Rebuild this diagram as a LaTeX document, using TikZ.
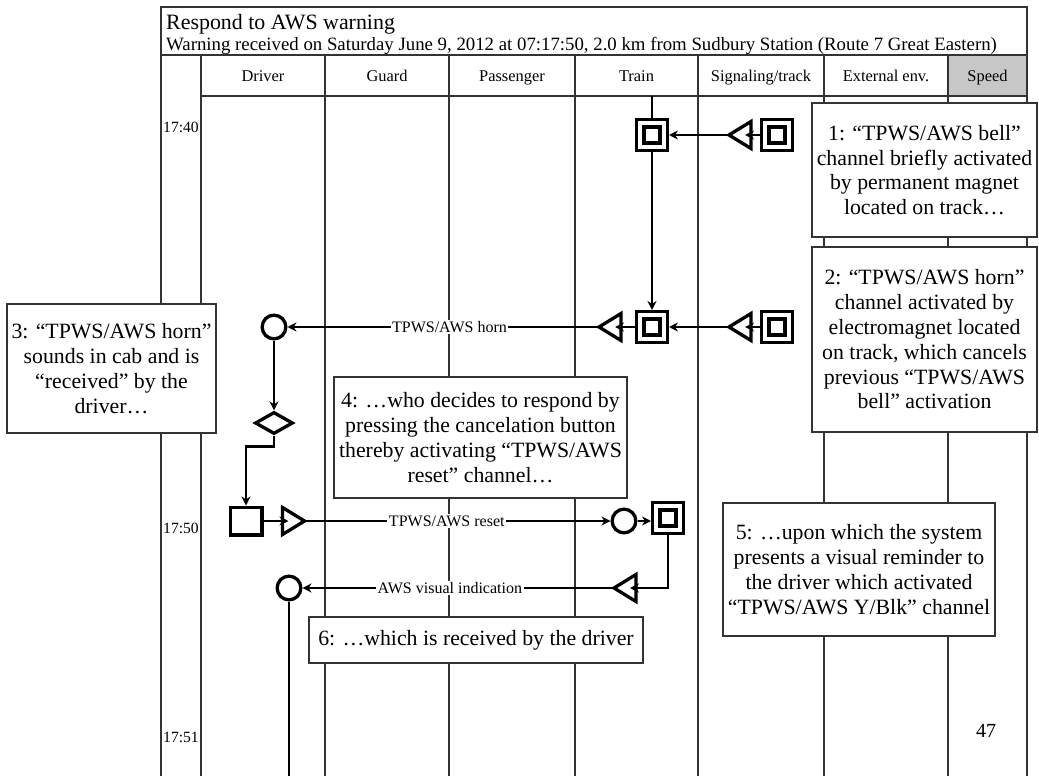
\documentclass[tikz,border=0pt]{standalone}
\usepackage{fontspec}
\setmainfont{Liberation Serif}
\usetikzlibrary{arrows.meta,shapes.geometric}
\definecolor{rulecol}{gray}{0.2}
\definecolor{speedgray}{gray}{0.78}
\begin{document}
\begin{tikzpicture}[x=1pt,y=-1pt,
  frameline/.style={draw=rulecol,line width=1.2pt},
  notebox/.style={draw=rulecol,line width=1.5pt,fill=white,align=center,inner sep=0pt,
    font=\fontsize{21.8}{24.8}\selectfont},
  shp/.style={draw=black,line width=3.3pt,fill=white,inner sep=0pt},
  dsq/.style={shp,rectangle,minimum size=30.7pt,
    path picture={\draw[line width=3.3pt]
      ([shift={(-7.9pt,-7.9pt)}]path picture bounding box.center) rectangle
      ([shift={(7.9pt,7.9pt)}]path picture bounding box.center);}},
  rcv/.style={shp,circle,minimum size=23.7pt},
  dcs/.style={shp,diamond,minimum width=38pt,minimum height=22pt},
  actbox/.style={shp,rectangle,minimum width=31.7pt,minimum height=27.7pt},
  conn/.style={draw=black,line width=2.5pt},
  arr/.style={conn,-{Stealth[length=9pt,width=9pt,inset=3pt]}},
  lbl/.style={fill=white,inner sep=1.5pt,font=\fontsize{16}{18}\selectfont},
  hdr/.style={anchor=base,inner sep=0pt,font=\fontsize{16.4}{18}\selectfont},
  tm/.style={anchor=base,inner sep=0pt,font=\fontsize{15.6}{17}\selectfont},
  trileft/.pic={\draw[shp] (-11,0) -- (11,-13.5) -- (11,13.5) -- cycle;
     \coordinate (-apex) at (-11,0); \coordinate (-base) at (11,0);},
  triright/.pic={\draw[shp] (11,0) -- (-11,-13.5) -- (-11,13.5) -- cycle;
     \coordinate (-apex) at (11,0); \coordinate (-base) at (-11,0);},
]
\useasboundingbox (0,0) rectangle (1039,776);

% table frame
\fill[speedgray] (948,55) rectangle (1027,96);
\draw[frameline] (161,776) -- (161,7) -- (1027,7) -- (1027,776);
\draw[frameline] (161,55) -- (1027,55);
\draw[frameline] (201,96) -- (1027,96);
\foreach \x in {201,325,449,575,698,824,948}
  \draw[frameline] (\x,55) -- (\x,776);

% title block
\node[anchor=base west,inner sep=0pt,font=\fontsize{21.9}{24}\selectfont] (title) at (166,29.5) {Respond to AWS warning};
\node[anchor=base west,inner sep=0pt,font=\fontsize{18.8}{20}\selectfont] (subtitle) at (166,50.5)
  {Warning received on Saturday June 9, 2012 at 07:17:50, 2.0 km from Sudbury Station (Route 7 Great Eastern)};

% column headings
\node[hdr] (hDriver) at (263,81.5) {Driver};
\node[hdr] (hGuard) at (387,81.5) {Guard};
\node[hdr] (hPass) at (512,81.5) {Passenger};
\node[hdr] (hTrain) at (636.5,81.5) {Train};
\node[hdr] (hSig) at (761,81.5) {Signaling/track};
\node[hdr] (hExt) at (886,81.5) {External env.};
\node[hdr] (hSpeed) at (987.5,81.5) {Speed};

% time stamps
\node[tm] (t1) at (181,132.5) {17:40};
\node[tm] (t2) at (181,533.5) {17:50};
\node[tm] (t3) at (181,742.5) {17:51};
\node[anchor=base,inner sep=0pt,font=\fontsize{20}{22}\selectfont] (pg) at (986,737) {47};

% explanatory notes
\node[notebox,minimum width=225pt,minimum height=134pt] (note1) at (924.5,170)
  {1: “TPWS/AWS bell”\\channel briefly activated\\by permanent magnet\\located on track…};
\node[notebox,minimum width=225pt,minimum height=185pt] (note2) at (924.5,339.5)
  {2: “TPWS/AWS horn”\\channel activated by\\electromagnet located\\on track, which cancels\\previous “TPWS/AWS\\bell” activation};
\node[notebox,minimum width=209pt,minimum height=129pt] (note3) at (111.5,368.5)
  {3: “TPWS/AWS horn”\\sounds in cab and is\\“received” by the\\driver…};
\node[notebox,minimum width=293pt,minimum height=121pt] (note4) at (480.5,437.5)
  {4: …who decides to respond by\\pressing the cancelation button\\thereby activating “TPWS/AWS\\reset” channel…};
\node[notebox,minimum width=272pt,minimum height=133pt] (note5) at (859,569.5)
  {5: …upon which the system\\presents a visual reminder to\\the driver which activated\\“TPWS/AWS Y/Blk” channel};
\node[notebox,minimum width=334pt,minimum height=46pt] (note6) at (476,640)
  {6: …which is received by the driver};

% symbols
\node[dsq] (sq1) at (652,135) {};
\node[dsq] (sig1) at (777,135) {};
\pic (tri1) at (740,135) {trileft};
\node[dsq] (sq2) at (652,327) {};
\node[dsq] (sig2) at (777,327) {};
\pic (tri2) at (740,327) {trileft};
\pic (tri3) at (610,327) {trileft};
\node[rcv] (rx1) at (274,327) {};
\node[dcs] (dec) at (274,423) {};
\node[actbox] (act) at (246,521) {};
\pic (tx1) at (293.5,521) {triright};
\node[rcv] (rx2) at (624,521) {};
\node[dsq] (sq3) at (668,518) {};
\pic (tx2) at (625,588) {trileft};
\node[rcv] (rx3) at (289,588) {};
\coordinate (trtop) at (652,96);
\coordinate (drvend) at (289,776);

% connectors
\draw[conn] (trtop) -- (sq1.north);
\draw[arr] (sq1.south) -- (sq2.north);
\draw[arr,shorten >=-6pt] (sig1.west) -- (tri1-base);
\draw[arr] (tri1-apex) -- (sq1.east);
\draw[arr,shorten >=-6pt] (sig2.west) -- (tri2-base);
\draw[arr] (tri2-apex) -- (sq2.east);
\draw[arr,shorten >=-6pt] (sq2.west) -- (tri3-base);
\draw[arr] (tri3-apex) -- node[lbl,pos=0.48]{TPWS/AWS horn} (rx1.east);
\draw[arr] (rx1.south) -- (dec.north);
\draw[arr] (dec.south) -- ++(0,11) -| (act.north);
\draw[arr,shorten >=-6pt] (act.east) -- (tx1-base);
\draw[arr] (tx1-apex) -- node[lbl,pos=0.465]{TPWS/AWS reset} (rx2.west);
\draw[arr] (rx2.east) -- (rx2.east -| sq3.west);
\draw[arr,shorten >=-6pt] (sq3.south) |- (tx2-base);
\draw[arr] (tx2-apex) -- node[lbl,pos=0.527]{AWS visual indication} (rx3.east);
\draw[conn] (rx3.south) -- (drvend);
\end{tikzpicture}
\end{document}
